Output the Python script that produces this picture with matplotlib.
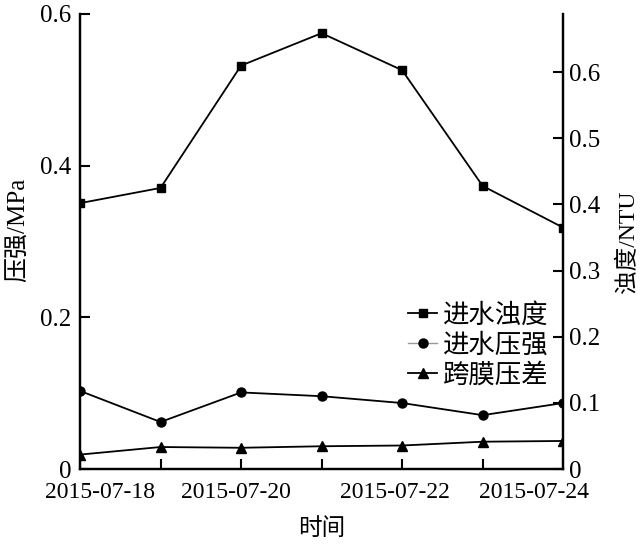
import numpy as np
import matplotlib.pyplot as plt
from matplotlib.lines import Line2D

plt.rcParams['font.family'] = ['Liberation Serif', 'Noto Sans CJK SC']
plt.rcParams['axes.unicode_minus'] = False

# 数据
dates = ['2015-07-18', '2015-07-19', '2015-07-20', '2015-07-21',
         '2015-07-22', '2015-07-23', '2015-07-24']
turbidity = [0.402, 0.425, 0.610, 0.659, 0.603, 0.428, 0.365]   # 进水浊度 NTU
inlet_pressure = [0.103, 0.062, 0.101, 0.096, 0.087, 0.071, 0.087]  # 进水压强 MPa
tmp = [0.019, 0.029, 0.028, 0.030, 0.031, 0.036, 0.037]  # 跨膜压差 MPa
label_dates = ['2015-07-18', '2015-07-20', '2015-07-22', '2015-07-24']
label_pos = [0.25, 1.94, 3.91, 5.64]   # 原图标签位置略有偏移

x = np.arange(len(dates))

fig = plt.figure(figsize=(6.4, 5.49), dpi=100)
ax1 = fig.add_axes([0.125, 0.1457, 0.755, 0.8288])
ax2 = ax1.twinx()

ax1.plot(x, inlet_pressure, 'k-', marker='o', ms=6.5, lw=1.3)
ax1.plot(x, tmp, 'k-', marker='^', ms=7, lw=1.3)
ax2.plot(x, turbidity, 'k-', marker='s', ms=6, lw=1.3)

ax1.set_xlim(0, 6)
ax1.set_ylim(0, 0.6)
ax2.set_ylim(0, 0.688)
ax1.set_yticks([0, 0.2, 0.4, 0.6])
ax1.set_yticklabels(['0', '0.2', '0.4', '0.6'])
ax2.set_yticks([0, 0.1, 0.2, 0.3, 0.4, 0.5, 0.6])
ax2.set_yticklabels(['0', '0.1', '0.2', '0.3', '0.4', '0.5', '0.6'])

# x轴：数据点处画刻度，标签单独放
ax1.set_xticks(x)
ax1.set_xticklabels([''] * len(x))
ax1.set_xticks(label_pos, minor=True)
ax1.set_xticklabels(label_dates, minor=True)
ax1.tick_params(axis='x', which='minor', length=0, labelsize=17, pad=9)

for ax in (ax1, ax2):
    ax.spines['top'].set_visible(False)
    for s in ax.spines.values():
        s.set_linewidth(1.6)
    ax.tick_params(which='major', direction='in', length=7, width=1.5, labelsize=18)
ax1.tick_params(axis='y', pad=6)
ax2.tick_params(axis='y', pad=4)

ax1.set_xlabel('时间', fontsize=17, labelpad=11)
ax1.set_ylabel('压强/MPa', fontsize=18)
ax1.yaxis.set_label_coords(-0.104, 0.525)
ax2.set_ylabel('浊度/NTU', fontsize=17, labelpad=12)

handles = [
    Line2D([], [], color='k', marker='s', ms=6, lw=1.3),
    Line2D([], [], color='#999999', marker='o', mfc='k', mec='k', ms=6.5, lw=1.0),
    Line2D([], [], color='k', marker='^', ms=7, lw=1.3),
]
ax2.legend(handles, ['进水浊度', '进水压强', '跨膜压差'], loc='upper right',
           bbox_to_anchor=(0.969, 0.365), frameon=False, fontsize=19,
           handlelength=1.1, handletextpad=0.2, labelspacing=0.2,
           borderpad=0, borderaxespad=0)

plt.savefig('out.png', dpi=100, facecolor='white')
plt.close()
